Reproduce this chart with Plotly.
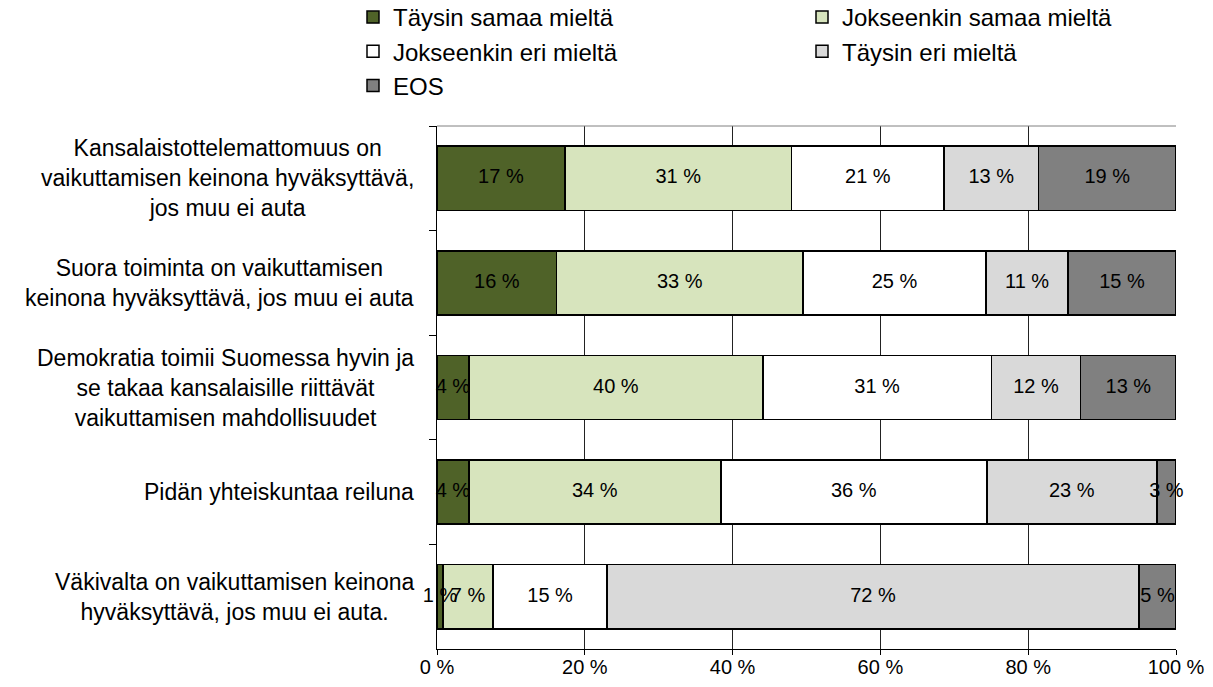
import plotly.graph_objects as go

categories = [
    "Kansalaistottelemattomuus on<br>vaikuttamisen keinona hyväksyttävä,<br>jos muu ei auta",
    "Suora toiminta on vaikuttamisen<br>keinona hyväksyttävä, jos muu ei auta",
    "Demokratia toimii Suomessa hyvin ja<br>se takaa kansalaisille riittävät<br>vaikuttamisen mahdollisuudet",
    "Pidän yhteiskuntaa reiluna",
    "Väkivalta on vaikuttamisen keinona<br>hyväksyttävä, jos muu ei auta.",
]
series_names = ["Täysin samaa mieltä", "Jokseenkin samaa mieltä",
                "Jokseenkin eri mieltä", "Täysin eri mieltä", "EOS"]
taysin_samaa = [17.3, 16.2, 4.3, 4.3, 0.8]
jokseenkin_samaa = [30.7, 33.3, 39.8, 34.1, 6.8]
jokseenkin_eri = [20.6, 24.8, 30.9, 36.0, 15.4]
taysin_eri = [12.8, 11.1, 12.1, 23.0, 72.0]
eos = [18.6, 14.6, 12.9, 2.6, 5.0]
tick_values = [0, 20, 40, 60, 80, 100]
tick_labels = ["0 %", "20 %", "40 %", "60 %", "80 %", "100 %"]

series = [taysin_samaa, jokseenkin_samaa, jokseenkin_eri, taysin_eri, eos]
colors = ["#4F6228", "#D7E4BD", "#FFFFFF", "#D9D9D9", "#808080"]
legends = ["legend", "legend2", "legend", "legend2", "legend"]
FONT = "Liberation Sans, Arial, sans-serif"

# the page body adds an 8px margin, so the figure is drawn 8px smaller
W, H = 1205, 679
ML, MR, MT, MB = 429, 37, 118, 38
plot_h = H - MT - MB

fig = go.Figure()
for name, vals, col, lg in zip(series_names, series, colors, legends):
    fig.add_trace(go.Bar(
        y=categories, x=vals, name=name, orientation="h",
        marker=dict(color=col, line=dict(color="#000000", width=1.5)),
        width=0.613, legend=lg, hoverinfo="skip",
    ))

# data labels centred in each segment
cum = [0.0] * len(categories)
for vals in series:
    mids = [c + v / 2 for c, v in zip(cum, vals)]
    fig.add_trace(go.Scatter(
        x=mids, y=categories, mode="text",
        text=[f"{round(v)} %" for v in vals],
        textposition="middle center",
        textfont=dict(family=FONT, size=20, color="#000000"),
        showlegend=False, cliponaxis=False, hoverinfo="skip",
    ))
    cum = [c + v for c, v in zip(cum, vals)]

for cat in categories:
    fig.add_annotation(
        x=-0.029, xref="paper", y=cat, yref="y", text=cat,
        xanchor="right", yanchor="middle", align="center", showarrow=False,
        font=dict(family=FONT, size=23, color="#000000"),
    )

fig.add_shape(type="line", xref="paper", yref="paper", x0=0, x1=1, y0=1, y1=1,
              line=dict(color="#808080", width=1))

legend_top = -13  # px from the figure top
legend_common = dict(yref="paper", y=(plot_h + MT - legend_top) / plot_h,
                     xanchor="left", yanchor="top", orientation="v",
                     font=dict(family=FONT, size=24, color="#000000"),
                     bgcolor="rgba(0,0,0,0)", itemwidth=30, tracegroupgap=0,
                     traceorder="normal")

fig.update_layout(
    width=W, height=H,
    margin=dict(l=ML, r=MR, t=MT, b=MB, autoexpand=False),
    paper_bgcolor="white", plot_bgcolor="white",
    barmode="stack", bargap=0.387,
    font=dict(family=FONT, color="#000000"),
    xaxis=dict(range=[0, 100], tickvals=tick_values, ticktext=tick_labels,
               showgrid=True, gridcolor="#222222", gridwidth=1,
               showline=True, linecolor="#000000", linewidth=1,
               ticks="outside", ticklen=5, tickcolor="#000000",
               tickangle=0, ticklabelstandoff=-5,
               tickfont=dict(family=FONT, size=20, color="#000000"),
               zeroline=False, fixedrange=True, automargin=False),
    yaxis=dict(type="category", categoryorder="array", categoryarray=categories,
               autorange="reversed", showticklabels=False,
               tickson="boundaries", ticks="outside", ticklen=7,
               tickcolor="#000000", showline=True, linecolor="#000000",
               linewidth=1, showgrid=False, zeroline=False, fixedrange=True,
               automargin=False),
    legend=dict(xref="container", x=345 / W, **legend_common),
    legend2=dict(xref="container", x=794 / W, **legend_common),
)

fig.write_html("out.html")
